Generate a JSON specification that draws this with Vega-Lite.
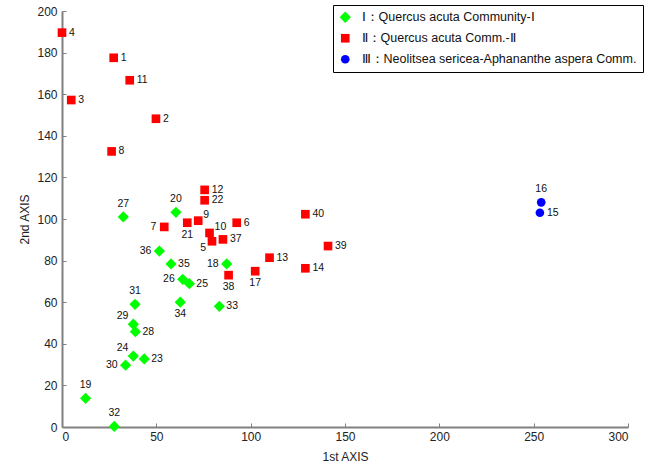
{
  "$schema": "https://vega.github.io/schema/vega-lite/v6.json",
  "width": 566,
  "height": 416,
  "autosize": {"type": "none"},
  "padding": {"left": 62, "top": 11, "right": 19, "bottom": 43},
  "background": "white",
  "config": {
    "view": {"stroke": null},
    "font": "Liberation Sans",
    "axis": {
      "grid": false,
      "domainColor": "#808080",
      "domainWidth": 2,
      "tickColor": "#808080",
      "tickWidth": 1,
      "tickSize": -4,
      "labelFont": "Liberation Sans",
      "labelFontSize": 12,
      "labelColor": "#222222",
      "titleFont": "Liberation Sans",
      "titleFontSize": 12,
      "titleFontWeight": "normal",
      "titleColor": "#222222"
    },
    "legend": {
      "orient": "none",
      "legendX": 271,
      "legendY": -6,
      "strokeColor": "black",
      "fillColor": "white",
      "padding": 6,
      "labelFont": "Liberation Sans",
      "labelFontSize": 12.5,
      "labelColor": "#111111",
      "labelOffset": 10,
      "symbolSize": 75,
      "symbolStrokeWidth": 0,
      "rowPadding": 8,
      "labelLimit": 400
    }
  },
  "data": {
    "values": [
      {"id": "18", "x": 87.3, "y": 78.4, "g": "Ⅰ：Quercus acuta Community-Ⅰ", "pos": "l"},
      {"id": "19", "x": 12.5, "y": 13.8, "g": "Ⅰ：Quercus acuta Community-Ⅰ", "pos": "t"},
      {"id": "20", "x": 60.4, "y": 103.2, "g": "Ⅰ：Quercus acuta Community-Ⅰ", "pos": "t"},
      {"id": "23", "x": 43.6, "y": 32.7, "g": "Ⅰ：Quercus acuta Community-Ⅰ", "pos": "r"},
      {"id": "24", "x": 37.8, "y": 34.1, "g": "Ⅰ：Quercus acuta Community-Ⅰ", "pos": "tl"},
      {"id": "25", "x": 67.5, "y": 68.9, "g": "Ⅰ：Quercus acuta Community-Ⅰ", "pos": "r"},
      {"id": "26", "x": 64.0, "y": 71.0, "g": "Ⅰ：Quercus acuta Community-Ⅰ", "pos": "l"},
      {"id": "27", "x": 32.5, "y": 101.0, "g": "Ⅰ：Quercus acuta Community-Ⅰ", "pos": "t"},
      {"id": "28", "x": 38.9, "y": 45.8, "g": "Ⅰ：Quercus acuta Community-Ⅰ", "pos": "r"},
      {"id": "29", "x": 37.8, "y": 49.4, "g": "Ⅰ：Quercus acuta Community-Ⅰ", "pos": "tl"},
      {"id": "30", "x": 33.7, "y": 29.7, "g": "Ⅰ：Quercus acuta Community-Ⅰ", "pos": "l"},
      {"id": "31", "x": 38.7, "y": 59.0, "g": "Ⅰ：Quercus acuta Community-Ⅰ", "pos": "t"},
      {"id": "32", "x": 27.7, "y": 0.3, "g": "Ⅰ：Quercus acuta Community-Ⅰ", "pos": "t"},
      {"id": "33", "x": 83.4, "y": 58.0, "g": "Ⅰ：Quercus acuta Community-Ⅰ", "pos": "r"},
      {"id": "34", "x": 62.7, "y": 60.0, "g": "Ⅰ：Quercus acuta Community-Ⅰ", "pos": "b"},
      {"id": "35", "x": 57.8, "y": 78.4, "g": "Ⅰ：Quercus acuta Community-Ⅰ", "pos": "r"},
      {"id": "36", "x": 51.6, "y": 84.6, "g": "Ⅰ：Quercus acuta Community-Ⅰ", "pos": "l"},
      {"id": "1", "x": 27.4, "y": 177.5, "g": "Ⅱ：Quercus acuta Comm.-Ⅱ", "pos": "r"},
      {"id": "2", "x": 49.8, "y": 148.2, "g": "Ⅱ：Quercus acuta Comm.-Ⅱ", "pos": "r"},
      {"id": "3", "x": 4.9, "y": 157.2, "g": "Ⅱ：Quercus acuta Comm.-Ⅱ", "pos": "r"},
      {"id": "4", "x": 0.0, "y": 189.6, "g": "Ⅱ：Quercus acuta Comm.-Ⅱ", "pos": "r"},
      {"id": "5", "x": 79.5, "y": 89.3, "g": "Ⅱ：Quercus acuta Comm.-Ⅱ", "pos": "bl"},
      {"id": "6", "x": 92.6, "y": 98.2, "g": "Ⅱ：Quercus acuta Comm.-Ⅱ", "pos": "r"},
      {"id": "7", "x": 54.2, "y": 96.2, "g": "Ⅱ：Quercus acuta Comm.-Ⅱ", "pos": "l"},
      {"id": "8", "x": 26.3, "y": 132.5, "g": "Ⅱ：Quercus acuta Comm.-Ⅱ", "pos": "r"},
      {"id": "9", "x": 72.2, "y": 99.2, "g": "Ⅱ：Quercus acuta Comm.-Ⅱ", "pos": "tr"},
      {"id": "10", "x": 78.2, "y": 93.3, "g": "Ⅱ：Quercus acuta Comm.-Ⅱ", "pos": "tr"},
      {"id": "11", "x": 35.9, "y": 166.7, "g": "Ⅱ：Quercus acuta Comm.-Ⅱ", "pos": "r"},
      {"id": "12", "x": 75.6, "y": 114.0, "g": "Ⅱ：Quercus acuta Comm.-Ⅱ", "pos": "r"},
      {"id": "13", "x": 110.0, "y": 81.4, "g": "Ⅱ：Quercus acuta Comm.-Ⅱ", "pos": "r"},
      {"id": "14", "x": 129.0, "y": 76.3, "g": "Ⅱ：Quercus acuta Comm.-Ⅱ", "pos": "r"},
      {"id": "17", "x": 102.4, "y": 74.9, "g": "Ⅱ：Quercus acuta Comm.-Ⅱ", "pos": "b"},
      {"id": "21", "x": 66.4, "y": 98.2, "g": "Ⅱ：Quercus acuta Comm.-Ⅱ", "pos": "b"},
      {"id": "22", "x": 75.6, "y": 109.0, "g": "Ⅱ：Quercus acuta Comm.-Ⅱ", "pos": "r"},
      {"id": "37", "x": 85.3, "y": 90.2, "g": "Ⅱ：Quercus acuta Comm.-Ⅱ", "pos": "r"},
      {"id": "38", "x": 88.3, "y": 73.0, "g": "Ⅱ：Quercus acuta Comm.-Ⅱ", "pos": "b"},
      {"id": "39", "x": 141.0, "y": 87.0, "g": "Ⅱ：Quercus acuta Comm.-Ⅱ", "pos": "r"},
      {"id": "40", "x": 129.0, "y": 102.3, "g": "Ⅱ：Quercus acuta Comm.-Ⅱ", "pos": "r"},
      {"id": "15", "x": 253.3, "y": 103.0, "g": "Ⅲ：Neolitsea sericea-Aphananthe aspera Comm.", "pos": "r"},
      {"id": "16", "x": 254.0, "y": 108.0, "g": "Ⅲ：Neolitsea sericea-Aphananthe aspera Comm.", "pos": "t"}
    ]
  },
  "encoding": {
    "x": {
      "field": "x", "type": "quantitative",
      "scale": {"domain": [0, 300], "nice": false, "zero": false},
      "axis": {"values": [0, 50, 100, 150, 200, 250, 300], "title": "1st AXIS", "labelPadding": 8, "titlePadding": 9}
    },
    "y": {
      "field": "y", "type": "quantitative",
      "scale": {"domain": [0, 200], "nice": false, "zero": false},
      "axis": {"values": [0, 20, 40, 60, 80, 100, 120, 140, 160, 180, 200], "title": "2nd AXIS", "labelPadding": 9, "titlePadding": 5}
    }
  },
  "layer": [
    {
      "mark": {"type": "point", "filled": true, "opacity": 1, "strokeWidth": 0, "clip": false, "size": 75},
      "encoding": {
        "color": {
          "field": "g", "type": "nominal", "title": null,
          "scale": {
            "domain": ["Ⅰ：Quercus acuta Community-Ⅰ", "Ⅱ：Quercus acuta Comm.-Ⅱ", "Ⅲ：Neolitsea sericea-Aphananthe aspera Comm."],
            "range": ["#00ff00", "#ff0000", "#0000ff"]
          }
        },
        "shape": {
          "field": "g", "type": "nominal", "title": null,
          "scale": {
            "domain": ["Ⅰ：Quercus acuta Community-Ⅰ", "Ⅱ：Quercus acuta Comm.-Ⅱ", "Ⅲ：Neolitsea sericea-Aphananthe aspera Comm."],
            "range": ["M-1.3,0L0,-1.3L1.3,0L0,1.3Z", "square", "circle"]
          }
        }
      }
    },
    {
      "transform": [{"filter": "datum.pos == 'r'"}],
      "mark": {"type": "text", "align": "left", "baseline": "middle", "dx": 7, "fontSize": 10.5, "color": "#111111", "font": "Liberation Sans"},
      "encoding": {"text": {"field": "id"}}
    },
    {
      "transform": [{"filter": "datum.pos == 'l'"}],
      "mark": {"type": "text", "align": "right", "baseline": "middle", "dx": -8, "fontSize": 10.5, "color": "#111111", "font": "Liberation Sans"},
      "encoding": {"text": {"field": "id"}}
    },
    {
      "transform": [{"filter": "datum.pos == 't'"}],
      "mark": {"type": "text", "align": "center", "baseline": "middle", "dy": -13, "fontSize": 10.5, "color": "#111111", "font": "Liberation Sans"},
      "encoding": {"text": {"field": "id"}}
    },
    {
      "transform": [{"filter": "datum.pos == 'b'"}],
      "mark": {"type": "text", "align": "center", "baseline": "middle", "dy": 12, "fontSize": 10.5, "color": "#111111", "font": "Liberation Sans"},
      "encoding": {"text": {"field": "id"}}
    },
    {
      "transform": [{"filter": "datum.pos == 'tr'"}],
      "mark": {"type": "text", "align": "left", "baseline": "middle", "dx": 5, "dy": -6, "fontSize": 10.5, "color": "#111111", "font": "Liberation Sans"},
      "encoding": {"text": {"field": "id"}}
    },
    {
      "transform": [{"filter": "datum.pos == 'tl'"}],
      "mark": {"type": "text", "align": "right", "baseline": "middle", "dx": -5, "dy": -8, "fontSize": 10.5, "color": "#111111", "font": "Liberation Sans"},
      "encoding": {"text": {"field": "id"}}
    },
    {
      "transform": [{"filter": "datum.pos == 'bl'"}],
      "mark": {"type": "text", "align": "right", "baseline": "middle", "dx": -6, "dy": 7, "fontSize": 10.5, "color": "#111111", "font": "Liberation Sans"},
      "encoding": {"text": {"field": "id"}}
    }
  ]
}
